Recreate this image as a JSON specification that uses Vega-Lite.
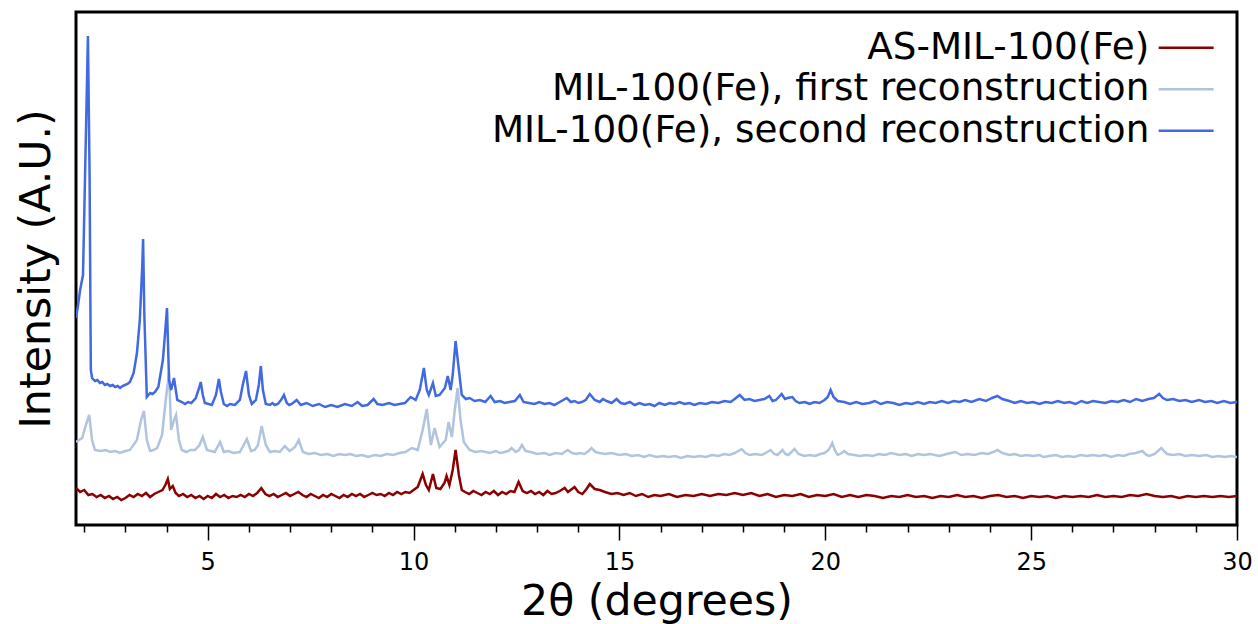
{
"$schema": "https://vega.github.io/schema/vega-lite/v6.json",
"width": 1161, "height": 513,
"autosize": {"type": "none"},
"padding": {"left": 76, "top": 12, "right": 21, "bottom": 99},
"background": "white",
"config": {"view": {"stroke": "black", "strokeWidth": 3}, "font": "DejaVu Sans"},
"data": {"values": [
{"s":"AS-MIL-100(Fe)","x":1.80,"v":37},{"s":"AS-MIL-100(Fe)","x":1.90,"v":33},{"s":"AS-MIL-100(Fe)","x":2.00,"v":35},{"s":"AS-MIL-100(Fe)","x":2.10,"v":30},{"s":"AS-MIL-100(Fe)","x":2.20,"v":31},{"s":"AS-MIL-100(Fe)","x":2.30,"v":28},{"s":"AS-MIL-100(Fe)","x":2.40,"v":30},{"s":"AS-MIL-100(Fe)","x":2.50,"v":27},{"s":"AS-MIL-100(Fe)","x":2.60,"v":29},{"s":"AS-MIL-100(Fe)","x":2.70,"v":26},{"s":"AS-MIL-100(Fe)","x":2.80,"v":28},{"s":"AS-MIL-100(Fe)","x":2.90,"v":25},{"s":"AS-MIL-100(Fe)","x":3.00,"v":27},{"s":"AS-MIL-100(Fe)","x":3.10,"v":30},{"s":"AS-MIL-100(Fe)","x":3.20,"v":28},{"s":"AS-MIL-100(Fe)","x":3.30,"v":31},{"s":"AS-MIL-100(Fe)","x":3.40,"v":29},{"s":"AS-MIL-100(Fe)","x":3.50,"v":32},{"s":"AS-MIL-100(Fe)","x":3.60,"v":28},{"s":"AS-MIL-100(Fe)","x":3.70,"v":31},{"s":"AS-MIL-100(Fe)","x":3.80,"v":33},{"s":"AS-MIL-100(Fe)","x":3.90,"v":35},{"s":"AS-MIL-100(Fe)","x":3.97,"v":40},{"s":"AS-MIL-100(Fe)","x":4.03,"v":46},{"s":"AS-MIL-100(Fe)","x":4.08,"v":36},{"s":"AS-MIL-100(Fe)","x":4.15,"v":39},{"s":"AS-MIL-100(Fe)","x":4.22,"v":32},{"s":"AS-MIL-100(Fe)","x":4.30,"v":29},{"s":"AS-MIL-100(Fe)","x":4.40,"v":31},{"s":"AS-MIL-100(Fe)","x":4.50,"v":28},{"s":"AS-MIL-100(Fe)","x":4.60,"v":30},{"s":"AS-MIL-100(Fe)","x":4.70,"v":27},{"s":"AS-MIL-100(Fe)","x":4.80,"v":29},{"s":"AS-MIL-100(Fe)","x":4.90,"v":26},{"s":"AS-MIL-100(Fe)","x":5.00,"v":29},{"s":"AS-MIL-100(Fe)","x":5.10,"v":27},{"s":"AS-MIL-100(Fe)","x":5.20,"v":31},{"s":"AS-MIL-100(Fe)","x":5.30,"v":28},{"s":"AS-MIL-100(Fe)","x":5.40,"v":30},{"s":"AS-MIL-100(Fe)","x":5.50,"v":27},{"s":"AS-MIL-100(Fe)","x":5.60,"v":29},{"s":"AS-MIL-100(Fe)","x":5.70,"v":28},{"s":"AS-MIL-100(Fe)","x":5.80,"v":30},{"s":"AS-MIL-100(Fe)","x":5.90,"v":28},{"s":"AS-MIL-100(Fe)","x":6.00,"v":31},{"s":"AS-MIL-100(Fe)","x":6.10,"v":29},{"s":"AS-MIL-100(Fe)","x":6.20,"v":32},{"s":"AS-MIL-100(Fe)","x":6.30,"v":37},{"s":"AS-MIL-100(Fe)","x":6.40,"v":31},{"s":"AS-MIL-100(Fe)","x":6.50,"v":29},{"s":"AS-MIL-100(Fe)","x":6.60,"v":31},{"s":"AS-MIL-100(Fe)","x":6.70,"v":28},{"s":"AS-MIL-100(Fe)","x":6.80,"v":30},{"s":"AS-MIL-100(Fe)","x":6.90,"v":32},{"s":"AS-MIL-100(Fe)","x":7.00,"v":29},{"s":"AS-MIL-100(Fe)","x":7.10,"v":31},{"s":"AS-MIL-100(Fe)","x":7.20,"v":33},{"s":"AS-MIL-100(Fe)","x":7.30,"v":30},{"s":"AS-MIL-100(Fe)","x":7.40,"v":28},{"s":"AS-MIL-100(Fe)","x":7.50,"v":31},{"s":"AS-MIL-100(Fe)","x":7.60,"v":29},{"s":"AS-MIL-100(Fe)","x":7.70,"v":27},{"s":"AS-MIL-100(Fe)","x":7.80,"v":30},{"s":"AS-MIL-100(Fe)","x":7.90,"v":28},{"s":"AS-MIL-100(Fe)","x":8.00,"v":31},{"s":"AS-MIL-100(Fe)","x":8.10,"v":29},{"s":"AS-MIL-100(Fe)","x":8.20,"v":27},{"s":"AS-MIL-100(Fe)","x":8.30,"v":30},{"s":"AS-MIL-100(Fe)","x":8.40,"v":28},{"s":"AS-MIL-100(Fe)","x":8.50,"v":31},{"s":"AS-MIL-100(Fe)","x":8.60,"v":29},{"s":"AS-MIL-100(Fe)","x":8.70,"v":31},{"s":"AS-MIL-100(Fe)","x":8.80,"v":28},{"s":"AS-MIL-100(Fe)","x":8.90,"v":30},{"s":"AS-MIL-100(Fe)","x":9.00,"v":32},{"s":"AS-MIL-100(Fe)","x":9.10,"v":30},{"s":"AS-MIL-100(Fe)","x":9.20,"v":31},{"s":"AS-MIL-100(Fe)","x":9.30,"v":29},{"s":"AS-MIL-100(Fe)","x":9.40,"v":32},{"s":"AS-MIL-100(Fe)","x":9.50,"v":30},{"s":"AS-MIL-100(Fe)","x":9.60,"v":33},{"s":"AS-MIL-100(Fe)","x":9.70,"v":31},{"s":"AS-MIL-100(Fe)","x":9.80,"v":33},{"s":"AS-MIL-100(Fe)","x":9.90,"v":32},{"s":"AS-MIL-100(Fe)","x":10.00,"v":35},{"s":"AS-MIL-100(Fe)","x":10.10,"v":38},{"s":"AS-MIL-100(Fe)","x":10.22,"v":51},{"s":"AS-MIL-100(Fe)","x":10.30,"v":40},{"s":"AS-MIL-100(Fe)","x":10.37,"v":35},{"s":"AS-MIL-100(Fe)","x":10.47,"v":51},{"s":"AS-MIL-100(Fe)","x":10.55,"v":37},{"s":"AS-MIL-100(Fe)","x":10.65,"v":36},{"s":"AS-MIL-100(Fe)","x":10.75,"v":42},{"s":"AS-MIL-100(Fe)","x":10.80,"v":49},{"s":"AS-MIL-100(Fe)","x":10.87,"v":40},{"s":"AS-MIL-100(Fe)","x":10.95,"v":55},{"s":"AS-MIL-100(Fe)","x":11.02,"v":75},{"s":"AS-MIL-100(Fe)","x":11.10,"v":50},{"s":"AS-MIL-100(Fe)","x":11.17,"v":35},{"s":"AS-MIL-100(Fe)","x":11.25,"v":33},{"s":"AS-MIL-100(Fe)","x":11.35,"v":31},{"s":"AS-MIL-100(Fe)","x":11.45,"v":34},{"s":"AS-MIL-100(Fe)","x":11.55,"v":32},{"s":"AS-MIL-100(Fe)","x":11.65,"v":30},{"s":"AS-MIL-100(Fe)","x":11.75,"v":33},{"s":"AS-MIL-100(Fe)","x":11.85,"v":31},{"s":"AS-MIL-100(Fe)","x":11.95,"v":34},{"s":"AS-MIL-100(Fe)","x":12.05,"v":30},{"s":"AS-MIL-100(Fe)","x":12.15,"v":33},{"s":"AS-MIL-100(Fe)","x":12.25,"v":31},{"s":"AS-MIL-100(Fe)","x":12.35,"v":34},{"s":"AS-MIL-100(Fe)","x":12.45,"v":33},{"s":"AS-MIL-100(Fe)","x":12.55,"v":43},{"s":"AS-MIL-100(Fe)","x":12.65,"v":34},{"s":"AS-MIL-100(Fe)","x":12.75,"v":32},{"s":"AS-MIL-100(Fe)","x":12.85,"v":34},{"s":"AS-MIL-100(Fe)","x":12.95,"v":31},{"s":"AS-MIL-100(Fe)","x":13.05,"v":33},{"s":"AS-MIL-100(Fe)","x":13.15,"v":30},{"s":"AS-MIL-100(Fe)","x":13.25,"v":34},{"s":"AS-MIL-100(Fe)","x":13.35,"v":31},{"s":"AS-MIL-100(Fe)","x":13.45,"v":32},{"s":"AS-MIL-100(Fe)","x":13.55,"v":34},{"s":"AS-MIL-100(Fe)","x":13.67,"v":37},{"s":"AS-MIL-100(Fe)","x":13.75,"v":33},{"s":"AS-MIL-100(Fe)","x":13.91,"v":38},{"s":"AS-MIL-100(Fe)","x":14.00,"v":33},{"s":"AS-MIL-100(Fe)","x":14.10,"v":31},{"s":"AS-MIL-100(Fe)","x":14.20,"v":36},{"s":"AS-MIL-100(Fe)","x":14.28,"v":41},{"s":"AS-MIL-100(Fe)","x":14.40,"v":36},{"s":"AS-MIL-100(Fe)","x":14.52,"v":35},{"s":"AS-MIL-100(Fe)","x":14.65,"v":33},{"s":"AS-MIL-100(Fe)","x":14.80,"v":31},{"s":"AS-MIL-100(Fe)","x":14.95,"v":32},{"s":"AS-MIL-100(Fe)","x":15.10,"v":30},{"s":"AS-MIL-100(Fe)","x":15.25,"v":32},{"s":"AS-MIL-100(Fe)","x":15.40,"v":29},{"s":"AS-MIL-100(Fe)","x":15.55,"v":31},{"s":"AS-MIL-100(Fe)","x":15.70,"v":28},{"s":"AS-MIL-100(Fe)","x":15.85,"v":30},{"s":"AS-MIL-100(Fe)","x":16.00,"v":29},{"s":"AS-MIL-100(Fe)","x":16.20,"v":31},{"s":"AS-MIL-100(Fe)","x":16.40,"v":28},{"s":"AS-MIL-100(Fe)","x":16.60,"v":30},{"s":"AS-MIL-100(Fe)","x":16.80,"v":29},{"s":"AS-MIL-100(Fe)","x":17.00,"v":31},{"s":"AS-MIL-100(Fe)","x":17.20,"v":29},{"s":"AS-MIL-100(Fe)","x":17.40,"v":31},{"s":"AS-MIL-100(Fe)","x":17.60,"v":30},{"s":"AS-MIL-100(Fe)","x":17.80,"v":32},{"s":"AS-MIL-100(Fe)","x":18.00,"v":30},{"s":"AS-MIL-100(Fe)","x":18.20,"v":32},{"s":"AS-MIL-100(Fe)","x":18.40,"v":29},{"s":"AS-MIL-100(Fe)","x":18.60,"v":31},{"s":"AS-MIL-100(Fe)","x":18.80,"v":28},{"s":"AS-MIL-100(Fe)","x":19.00,"v":30},{"s":"AS-MIL-100(Fe)","x":19.20,"v":29},{"s":"AS-MIL-100(Fe)","x":19.40,"v":31},{"s":"AS-MIL-100(Fe)","x":19.60,"v":28},{"s":"AS-MIL-100(Fe)","x":19.80,"v":30},{"s":"AS-MIL-100(Fe)","x":20.00,"v":29},{"s":"AS-MIL-100(Fe)","x":20.20,"v":31},{"s":"AS-MIL-100(Fe)","x":20.40,"v":28},{"s":"AS-MIL-100(Fe)","x":20.60,"v":30},{"s":"AS-MIL-100(Fe)","x":20.80,"v":28},{"s":"AS-MIL-100(Fe)","x":21.00,"v":30},{"s":"AS-MIL-100(Fe)","x":21.20,"v":29},{"s":"AS-MIL-100(Fe)","x":21.40,"v":27},{"s":"AS-MIL-100(Fe)","x":21.60,"v":29},{"s":"AS-MIL-100(Fe)","x":21.80,"v":28},{"s":"AS-MIL-100(Fe)","x":22.00,"v":30},{"s":"AS-MIL-100(Fe)","x":22.20,"v":28},{"s":"AS-MIL-100(Fe)","x":22.40,"v":29},{"s":"AS-MIL-100(Fe)","x":22.60,"v":27},{"s":"AS-MIL-100(Fe)","x":22.80,"v":29},{"s":"AS-MIL-100(Fe)","x":23.00,"v":28},{"s":"AS-MIL-100(Fe)","x":23.20,"v":30},{"s":"AS-MIL-100(Fe)","x":23.40,"v":28},{"s":"AS-MIL-100(Fe)","x":23.60,"v":29},{"s":"AS-MIL-100(Fe)","x":23.80,"v":27},{"s":"AS-MIL-100(Fe)","x":24.00,"v":29},{"s":"AS-MIL-100(Fe)","x":24.20,"v":30},{"s":"AS-MIL-100(Fe)","x":24.40,"v":28},{"s":"AS-MIL-100(Fe)","x":24.60,"v":29},{"s":"AS-MIL-100(Fe)","x":24.80,"v":27},{"s":"AS-MIL-100(Fe)","x":25.00,"v":29},{"s":"AS-MIL-100(Fe)","x":25.20,"v":28},{"s":"AS-MIL-100(Fe)","x":25.40,"v":29},{"s":"AS-MIL-100(Fe)","x":25.60,"v":27},{"s":"AS-MIL-100(Fe)","x":25.80,"v":29},{"s":"AS-MIL-100(Fe)","x":26.00,"v":28},{"s":"AS-MIL-100(Fe)","x":26.20,"v":29},{"s":"AS-MIL-100(Fe)","x":26.40,"v":28},{"s":"AS-MIL-100(Fe)","x":26.60,"v":30},{"s":"AS-MIL-100(Fe)","x":26.80,"v":28},{"s":"AS-MIL-100(Fe)","x":27.00,"v":29},{"s":"AS-MIL-100(Fe)","x":27.20,"v":28},{"s":"AS-MIL-100(Fe)","x":27.40,"v":30},{"s":"AS-MIL-100(Fe)","x":27.60,"v":29},{"s":"AS-MIL-100(Fe)","x":27.80,"v":31},{"s":"AS-MIL-100(Fe)","x":28.00,"v":29},{"s":"AS-MIL-100(Fe)","x":28.20,"v":28},{"s":"AS-MIL-100(Fe)","x":28.40,"v":29},{"s":"AS-MIL-100(Fe)","x":28.60,"v":27},{"s":"AS-MIL-100(Fe)","x":28.80,"v":29},{"s":"AS-MIL-100(Fe)","x":29.00,"v":28},{"s":"AS-MIL-100(Fe)","x":29.20,"v":29},{"s":"AS-MIL-100(Fe)","x":29.40,"v":28},{"s":"AS-MIL-100(Fe)","x":29.60,"v":29},{"s":"AS-MIL-100(Fe)","x":29.80,"v":28},{"s":"AS-MIL-100(Fe)","x":30.00,"v":29},
{"s":"MIL-100(Fe), first reconstruction","x":1.80,"v":83},{"s":"MIL-100(Fe), first reconstruction","x":1.95,"v":87},{"s":"MIL-100(Fe), first reconstruction","x":2.04,"v":100},{"s":"MIL-100(Fe), first reconstruction","x":2.12,"v":110},{"s":"MIL-100(Fe), first reconstruction","x":2.19,"v":85},{"s":"MIL-100(Fe), first reconstruction","x":2.26,"v":75},{"s":"MIL-100(Fe), first reconstruction","x":2.40,"v":74},{"s":"MIL-100(Fe), first reconstruction","x":2.52,"v":75},{"s":"MIL-100(Fe), first reconstruction","x":2.63,"v":73},{"s":"MIL-100(Fe), first reconstruction","x":2.75,"v":74},{"s":"MIL-100(Fe), first reconstruction","x":2.87,"v":72},{"s":"MIL-100(Fe), first reconstruction","x":3.00,"v":74},{"s":"MIL-100(Fe), first reconstruction","x":3.11,"v":75},{"s":"MIL-100(Fe), first reconstruction","x":3.28,"v":85},{"s":"MIL-100(Fe), first reconstruction","x":3.38,"v":105},{"s":"MIL-100(Fe), first reconstruction","x":3.45,"v":114},{"s":"MIL-100(Fe), first reconstruction","x":3.52,"v":85},{"s":"MIL-100(Fe), first reconstruction","x":3.60,"v":74},{"s":"MIL-100(Fe), first reconstruction","x":3.68,"v":75},{"s":"MIL-100(Fe), first reconstruction","x":3.77,"v":77},{"s":"MIL-100(Fe), first reconstruction","x":3.89,"v":90},{"s":"MIL-100(Fe), first reconstruction","x":3.98,"v":125},{"s":"MIL-100(Fe), first reconstruction","x":4.06,"v":153},{"s":"MIL-100(Fe), first reconstruction","x":4.11,"v":95},{"s":"MIL-100(Fe), first reconstruction","x":4.18,"v":105},{"s":"MIL-100(Fe), first reconstruction","x":4.23,"v":110},{"s":"MIL-100(Fe), first reconstruction","x":4.30,"v":85},{"s":"MIL-100(Fe), first reconstruction","x":4.37,"v":75},{"s":"MIL-100(Fe), first reconstruction","x":4.48,"v":73},{"s":"MIL-100(Fe), first reconstruction","x":4.58,"v":75},{"s":"MIL-100(Fe), first reconstruction","x":4.69,"v":75},{"s":"MIL-100(Fe), first reconstruction","x":4.80,"v":80},{"s":"MIL-100(Fe), first reconstruction","x":4.88,"v":88},{"s":"MIL-100(Fe), first reconstruction","x":4.98,"v":75},{"s":"MIL-100(Fe), first reconstruction","x":5.08,"v":74},{"s":"MIL-100(Fe), first reconstruction","x":5.17,"v":73},{"s":"MIL-100(Fe), first reconstruction","x":5.30,"v":83},{"s":"MIL-100(Fe), first reconstruction","x":5.39,"v":73},{"s":"MIL-100(Fe), first reconstruction","x":5.50,"v":74},{"s":"MIL-100(Fe), first reconstruction","x":5.62,"v":72},{"s":"MIL-100(Fe), first reconstruction","x":5.78,"v":73},{"s":"MIL-100(Fe), first reconstruction","x":5.95,"v":86},{"s":"MIL-100(Fe), first reconstruction","x":6.05,"v":74},{"s":"MIL-100(Fe), first reconstruction","x":6.14,"v":75},{"s":"MIL-100(Fe), first reconstruction","x":6.22,"v":80},{"s":"MIL-100(Fe), first reconstruction","x":6.31,"v":99},{"s":"MIL-100(Fe), first reconstruction","x":6.41,"v":80},{"s":"MIL-100(Fe), first reconstruction","x":6.51,"v":73},{"s":"MIL-100(Fe), first reconstruction","x":6.63,"v":74},{"s":"MIL-100(Fe), first reconstruction","x":6.75,"v":73},{"s":"MIL-100(Fe), first reconstruction","x":6.87,"v":79},{"s":"MIL-100(Fe), first reconstruction","x":6.99,"v":74},{"s":"MIL-100(Fe), first reconstruction","x":7.12,"v":78},{"s":"MIL-100(Fe), first reconstruction","x":7.21,"v":85},{"s":"MIL-100(Fe), first reconstruction","x":7.31,"v":73},{"s":"MIL-100(Fe), first reconstruction","x":7.45,"v":71},{"s":"MIL-100(Fe), first reconstruction","x":7.60,"v":72},{"s":"MIL-100(Fe), first reconstruction","x":7.75,"v":70},{"s":"MIL-100(Fe), first reconstruction","x":7.90,"v":71},{"s":"MIL-100(Fe), first reconstruction","x":8.05,"v":69},{"s":"MIL-100(Fe), first reconstruction","x":8.20,"v":71},{"s":"MIL-100(Fe), first reconstruction","x":8.33,"v":70},{"s":"MIL-100(Fe), first reconstruction","x":8.47,"v":71},{"s":"MIL-100(Fe), first reconstruction","x":8.60,"v":69},{"s":"MIL-100(Fe), first reconstruction","x":8.75,"v":70},{"s":"MIL-100(Fe), first reconstruction","x":8.90,"v":68},{"s":"MIL-100(Fe), first reconstruction","x":9.05,"v":70},{"s":"MIL-100(Fe), first reconstruction","x":9.20,"v":69},{"s":"MIL-100(Fe), first reconstruction","x":9.35,"v":71},{"s":"MIL-100(Fe), first reconstruction","x":9.50,"v":70},{"s":"MIL-100(Fe), first reconstruction","x":9.66,"v":72},{"s":"MIL-100(Fe), first reconstruction","x":9.80,"v":73},{"s":"MIL-100(Fe), first reconstruction","x":9.96,"v":77},{"s":"MIL-100(Fe), first reconstruction","x":10.10,"v":75},{"s":"MIL-100(Fe), first reconstruction","x":10.22,"v":95},{"s":"MIL-100(Fe), first reconstruction","x":10.32,"v":116},{"s":"MIL-100(Fe), first reconstruction","x":10.42,"v":80},{"s":"MIL-100(Fe), first reconstruction","x":10.51,"v":97},{"s":"MIL-100(Fe), first reconstruction","x":10.63,"v":78},{"s":"MIL-100(Fe), first reconstruction","x":10.78,"v":85},{"s":"MIL-100(Fe), first reconstruction","x":10.85,"v":103},{"s":"MIL-100(Fe), first reconstruction","x":10.93,"v":88},{"s":"MIL-100(Fe), first reconstruction","x":11.00,"v":115},{"s":"MIL-100(Fe), first reconstruction","x":11.07,"v":137},{"s":"MIL-100(Fe), first reconstruction","x":11.14,"v":105},{"s":"MIL-100(Fe), first reconstruction","x":11.22,"v":83},{"s":"MIL-100(Fe), first reconstruction","x":11.36,"v":75},{"s":"MIL-100(Fe), first reconstruction","x":11.50,"v":73},{"s":"MIL-100(Fe), first reconstruction","x":11.65,"v":74},{"s":"MIL-100(Fe), first reconstruction","x":11.85,"v":72},{"s":"MIL-100(Fe), first reconstruction","x":12.00,"v":74},{"s":"MIL-100(Fe), first reconstruction","x":12.10,"v":72},{"s":"MIL-100(Fe), first reconstruction","x":12.21,"v":73},{"s":"MIL-100(Fe), first reconstruction","x":12.30,"v":74},{"s":"MIL-100(Fe), first reconstruction","x":12.38,"v":77},{"s":"MIL-100(Fe), first reconstruction","x":12.48,"v":73},{"s":"MIL-100(Fe), first reconstruction","x":12.56,"v":75},{"s":"MIL-100(Fe), first reconstruction","x":12.63,"v":80},{"s":"MIL-100(Fe), first reconstruction","x":12.72,"v":74},{"s":"MIL-100(Fe), first reconstruction","x":12.85,"v":73},{"s":"MIL-100(Fe), first reconstruction","x":13.00,"v":71},{"s":"MIL-100(Fe), first reconstruction","x":13.18,"v":72},{"s":"MIL-100(Fe), first reconstruction","x":13.30,"v":70},{"s":"MIL-100(Fe), first reconstruction","x":13.45,"v":72},{"s":"MIL-100(Fe), first reconstruction","x":13.60,"v":71},{"s":"MIL-100(Fe), first reconstruction","x":13.74,"v":75},{"s":"MIL-100(Fe), first reconstruction","x":13.85,"v":72},{"s":"MIL-100(Fe), first reconstruction","x":13.95,"v":71},{"s":"MIL-100(Fe), first reconstruction","x":14.03,"v":72},{"s":"MIL-100(Fe), first reconstruction","x":14.15,"v":71},{"s":"MIL-100(Fe), first reconstruction","x":14.25,"v":74},{"s":"MIL-100(Fe), first reconstruction","x":14.32,"v":77},{"s":"MIL-100(Fe), first reconstruction","x":14.42,"v":73},{"s":"MIL-100(Fe), first reconstruction","x":14.52,"v":72},{"s":"MIL-100(Fe), first reconstruction","x":14.65,"v":71},{"s":"MIL-100(Fe), first reconstruction","x":14.80,"v":72},{"s":"MIL-100(Fe), first reconstruction","x":15.00,"v":70},{"s":"MIL-100(Fe), first reconstruction","x":15.15,"v":71},{"s":"MIL-100(Fe), first reconstruction","x":15.30,"v":69},{"s":"MIL-100(Fe), first reconstruction","x":15.45,"v":70},{"s":"MIL-100(Fe), first reconstruction","x":15.60,"v":68},{"s":"MIL-100(Fe), first reconstruction","x":15.73,"v":70},{"s":"MIL-100(Fe), first reconstruction","x":15.90,"v":68},{"s":"MIL-100(Fe), first reconstruction","x":16.05,"v":69},{"s":"MIL-100(Fe), first reconstruction","x":16.20,"v":68},{"s":"MIL-100(Fe), first reconstruction","x":16.35,"v":69},{"s":"MIL-100(Fe), first reconstruction","x":16.50,"v":67},{"s":"MIL-100(Fe), first reconstruction","x":16.65,"v":69},{"s":"MIL-100(Fe), first reconstruction","x":16.80,"v":68},{"s":"MIL-100(Fe), first reconstruction","x":16.95,"v":69},{"s":"MIL-100(Fe), first reconstruction","x":17.10,"v":68},{"s":"MIL-100(Fe), first reconstruction","x":17.25,"v":70},{"s":"MIL-100(Fe), first reconstruction","x":17.40,"v":69},{"s":"MIL-100(Fe), first reconstruction","x":17.55,"v":71},{"s":"MIL-100(Fe), first reconstruction","x":17.67,"v":70},{"s":"MIL-100(Fe), first reconstruction","x":17.80,"v":72},{"s":"MIL-100(Fe), first reconstruction","x":17.97,"v":76},{"s":"MIL-100(Fe), first reconstruction","x":18.06,"v":72},{"s":"MIL-100(Fe), first reconstruction","x":18.16,"v":70},{"s":"MIL-100(Fe), first reconstruction","x":18.30,"v":71},{"s":"MIL-100(Fe), first reconstruction","x":18.45,"v":70},{"s":"MIL-100(Fe), first reconstruction","x":18.55,"v":72},{"s":"MIL-100(Fe), first reconstruction","x":18.67,"v":75},{"s":"MIL-100(Fe), first reconstruction","x":18.76,"v":71},{"s":"MIL-100(Fe), first reconstruction","x":18.84,"v":70},{"s":"MIL-100(Fe), first reconstruction","x":18.96,"v":75},{"s":"MIL-100(Fe), first reconstruction","x":19.03,"v":71},{"s":"MIL-100(Fe), first reconstruction","x":19.10,"v":70},{"s":"MIL-100(Fe), first reconstruction","x":19.18,"v":73},{"s":"MIL-100(Fe), first reconstruction","x":19.25,"v":76},{"s":"MIL-100(Fe), first reconstruction","x":19.35,"v":71},{"s":"MIL-100(Fe), first reconstruction","x":19.49,"v":69},{"s":"MIL-100(Fe), first reconstruction","x":19.62,"v":70},{"s":"MIL-100(Fe), first reconstruction","x":19.75,"v":69},{"s":"MIL-100(Fe), first reconstruction","x":19.88,"v":71},{"s":"MIL-100(Fe), first reconstruction","x":19.98,"v":72},{"s":"MIL-100(Fe), first reconstruction","x":20.08,"v":75},{"s":"MIL-100(Fe), first reconstruction","x":20.17,"v":82},{"s":"MIL-100(Fe), first reconstruction","x":20.24,"v":74},{"s":"MIL-100(Fe), first reconstruction","x":20.30,"v":70},{"s":"MIL-100(Fe), first reconstruction","x":20.40,"v":72},{"s":"MIL-100(Fe), first reconstruction","x":20.46,"v":74},{"s":"MIL-100(Fe), first reconstruction","x":20.55,"v":71},{"s":"MIL-100(Fe), first reconstruction","x":20.70,"v":70},{"s":"MIL-100(Fe), first reconstruction","x":20.83,"v":69},{"s":"MIL-100(Fe), first reconstruction","x":21.00,"v":70},{"s":"MIL-100(Fe), first reconstruction","x":21.15,"v":69},{"s":"MIL-100(Fe), first reconstruction","x":21.30,"v":71},{"s":"MIL-100(Fe), first reconstruction","x":21.45,"v":70},{"s":"MIL-100(Fe), first reconstruction","x":21.60,"v":72},{"s":"MIL-100(Fe), first reconstruction","x":21.80,"v":70},{"s":"MIL-100(Fe), first reconstruction","x":21.95,"v":71},{"s":"MIL-100(Fe), first reconstruction","x":22.10,"v":69},{"s":"MIL-100(Fe), first reconstruction","x":22.25,"v":71},{"s":"MIL-100(Fe), first reconstruction","x":22.40,"v":70},{"s":"MIL-100(Fe), first reconstruction","x":22.55,"v":71},{"s":"MIL-100(Fe), first reconstruction","x":22.77,"v":69},{"s":"MIL-100(Fe), first reconstruction","x":22.95,"v":71},{"s":"MIL-100(Fe), first reconstruction","x":23.05,"v":72},{"s":"MIL-100(Fe), first reconstruction","x":23.16,"v":73},{"s":"MIL-100(Fe), first reconstruction","x":23.30,"v":70},{"s":"MIL-100(Fe), first reconstruction","x":23.45,"v":71},{"s":"MIL-100(Fe), first reconstruction","x":23.62,"v":70},{"s":"MIL-100(Fe), first reconstruction","x":23.80,"v":72},{"s":"MIL-100(Fe), first reconstruction","x":23.95,"v":71},{"s":"MIL-100(Fe), first reconstruction","x":24.08,"v":73},{"s":"MIL-100(Fe), first reconstruction","x":24.18,"v":75},{"s":"MIL-100(Fe), first reconstruction","x":24.30,"v":72},{"s":"MIL-100(Fe), first reconstruction","x":24.47,"v":70},{"s":"MIL-100(Fe), first reconstruction","x":24.60,"v":71},{"s":"MIL-100(Fe), first reconstruction","x":24.75,"v":69},{"s":"MIL-100(Fe), first reconstruction","x":24.90,"v":70},{"s":"MIL-100(Fe), first reconstruction","x":25.05,"v":69},{"s":"MIL-100(Fe), first reconstruction","x":25.20,"v":70},{"s":"MIL-100(Fe), first reconstruction","x":25.30,"v":68},{"s":"MIL-100(Fe), first reconstruction","x":25.44,"v":69},{"s":"MIL-100(Fe), first reconstruction","x":25.60,"v":70},{"s":"MIL-100(Fe), first reconstruction","x":25.75,"v":68},{"s":"MIL-100(Fe), first reconstruction","x":25.90,"v":69},{"s":"MIL-100(Fe), first reconstruction","x":26.05,"v":68},{"s":"MIL-100(Fe), first reconstruction","x":26.20,"v":70},{"s":"MIL-100(Fe), first reconstruction","x":26.35,"v":69},{"s":"MIL-100(Fe), first reconstruction","x":26.50,"v":70},{"s":"MIL-100(Fe), first reconstruction","x":26.65,"v":69},{"s":"MIL-100(Fe), first reconstruction","x":26.80,"v":70},{"s":"MIL-100(Fe), first reconstruction","x":26.95,"v":68},{"s":"MIL-100(Fe), first reconstruction","x":27.10,"v":70},{"s":"MIL-100(Fe), first reconstruction","x":27.25,"v":69},{"s":"MIL-100(Fe), first reconstruction","x":27.38,"v":71},{"s":"MIL-100(Fe), first reconstruction","x":27.55,"v":72},{"s":"MIL-100(Fe), first reconstruction","x":27.70,"v":74},{"s":"MIL-100(Fe), first reconstruction","x":27.80,"v":70},{"s":"MIL-100(Fe), first reconstruction","x":27.87,"v":69},{"s":"MIL-100(Fe), first reconstruction","x":28.00,"v":71},{"s":"MIL-100(Fe), first reconstruction","x":28.16,"v":77},{"s":"MIL-100(Fe), first reconstruction","x":28.25,"v":73},{"s":"MIL-100(Fe), first reconstruction","x":28.30,"v":71},{"s":"MIL-100(Fe), first reconstruction","x":28.45,"v":70},{"s":"MIL-100(Fe), first reconstruction","x":28.60,"v":71},{"s":"MIL-100(Fe), first reconstruction","x":28.75,"v":69},{"s":"MIL-100(Fe), first reconstruction","x":28.90,"v":70},{"s":"MIL-100(Fe), first reconstruction","x":29.08,"v":69},{"s":"MIL-100(Fe), first reconstruction","x":29.25,"v":70},{"s":"MIL-100(Fe), first reconstruction","x":29.40,"v":68},{"s":"MIL-100(Fe), first reconstruction","x":29.55,"v":69},{"s":"MIL-100(Fe), first reconstruction","x":29.70,"v":68},{"s":"MIL-100(Fe), first reconstruction","x":29.85,"v":69},{"s":"MIL-100(Fe), first reconstruction","x":30.00,"v":68},
{"s":"MIL-100(Fe), second reconstruction","x":1.80,"v":207},{"s":"MIL-100(Fe), second reconstruction","x":1.85,"v":220},{"s":"MIL-100(Fe), second reconstruction","x":1.90,"v":235},{"s":"MIL-100(Fe), second reconstruction","x":1.97,"v":250},{"s":"MIL-100(Fe), second reconstruction","x":2.02,"v":350},{"s":"MIL-100(Fe), second reconstruction","x":2.09,"v":489},{"s":"MIL-100(Fe), second reconstruction","x":2.13,"v":350},{"s":"MIL-100(Fe), second reconstruction","x":2.16,"v":155},{"s":"MIL-100(Fe), second reconstruction","x":2.19,"v":147},{"s":"MIL-100(Fe), second reconstruction","x":2.26,"v":144},{"s":"MIL-100(Fe), second reconstruction","x":2.32,"v":145},{"s":"MIL-100(Fe), second reconstruction","x":2.38,"v":142},{"s":"MIL-100(Fe), second reconstruction","x":2.44,"v":143},{"s":"MIL-100(Fe), second reconstruction","x":2.50,"v":140},{"s":"MIL-100(Fe), second reconstruction","x":2.56,"v":141},{"s":"MIL-100(Fe), second reconstruction","x":2.63,"v":139},{"s":"MIL-100(Fe), second reconstruction","x":2.69,"v":140},{"s":"MIL-100(Fe), second reconstruction","x":2.75,"v":138},{"s":"MIL-100(Fe), second reconstruction","x":2.81,"v":139},{"s":"MIL-100(Fe), second reconstruction","x":2.87,"v":137},{"s":"MIL-100(Fe), second reconstruction","x":2.93,"v":139},{"s":"MIL-100(Fe), second reconstruction","x":2.99,"v":140},{"s":"MIL-100(Fe), second reconstruction","x":3.05,"v":141},{"s":"MIL-100(Fe), second reconstruction","x":3.11,"v":143},{"s":"MIL-100(Fe), second reconstruction","x":3.20,"v":152},{"s":"MIL-100(Fe), second reconstruction","x":3.28,"v":172},{"s":"MIL-100(Fe), second reconstruction","x":3.35,"v":205},{"s":"MIL-100(Fe), second reconstruction","x":3.41,"v":260},{"s":"MIL-100(Fe), second reconstruction","x":3.43,"v":286},{"s":"MIL-100(Fe), second reconstruction","x":3.46,"v":210},{"s":"MIL-100(Fe), second reconstruction","x":3.52,"v":128},{"s":"MIL-100(Fe), second reconstruction","x":3.60,"v":132},{"s":"MIL-100(Fe), second reconstruction","x":3.66,"v":131},{"s":"MIL-100(Fe), second reconstruction","x":3.72,"v":133},{"s":"MIL-100(Fe), second reconstruction","x":3.80,"v":138},{"s":"MIL-100(Fe), second reconstruction","x":3.91,"v":165},{"s":"MIL-100(Fe), second reconstruction","x":3.96,"v":190},{"s":"MIL-100(Fe), second reconstruction","x":4.01,"v":217},{"s":"MIL-100(Fe), second reconstruction","x":4.06,"v":145},{"s":"MIL-100(Fe), second reconstruction","x":4.11,"v":135},{"s":"MIL-100(Fe), second reconstruction","x":4.18,"v":147},{"s":"MIL-100(Fe), second reconstruction","x":4.26,"v":125},{"s":"MIL-100(Fe), second reconstruction","x":4.37,"v":123},{"s":"MIL-100(Fe), second reconstruction","x":4.45,"v":121},{"s":"MIL-100(Fe), second reconstruction","x":4.52,"v":123},{"s":"MIL-100(Fe), second reconstruction","x":4.60,"v":122},{"s":"MIL-100(Fe), second reconstruction","x":4.71,"v":127},{"s":"MIL-100(Fe), second reconstruction","x":4.79,"v":137},{"s":"MIL-100(Fe), second reconstruction","x":4.83,"v":143},{"s":"MIL-100(Fe), second reconstruction","x":4.88,"v":130},{"s":"MIL-100(Fe), second reconstruction","x":4.93,"v":122},{"s":"MIL-100(Fe), second reconstruction","x":5.02,"v":121},{"s":"MIL-100(Fe), second reconstruction","x":5.10,"v":120},{"s":"MIL-100(Fe), second reconstruction","x":5.20,"v":130},{"s":"MIL-100(Fe), second reconstruction","x":5.27,"v":146},{"s":"MIL-100(Fe), second reconstruction","x":5.32,"v":133},{"s":"MIL-100(Fe), second reconstruction","x":5.39,"v":121},{"s":"MIL-100(Fe), second reconstruction","x":5.47,"v":119},{"s":"MIL-100(Fe), second reconstruction","x":5.54,"v":121},{"s":"MIL-100(Fe), second reconstruction","x":5.66,"v":120},{"s":"MIL-100(Fe), second reconstruction","x":5.78,"v":125},{"s":"MIL-100(Fe), second reconstruction","x":5.85,"v":140},{"s":"MIL-100(Fe), second reconstruction","x":5.93,"v":154},{"s":"MIL-100(Fe), second reconstruction","x":6.00,"v":130},{"s":"MIL-100(Fe), second reconstruction","x":6.07,"v":121},{"s":"MIL-100(Fe), second reconstruction","x":6.17,"v":125},{"s":"MIL-100(Fe), second reconstruction","x":6.24,"v":140},{"s":"MIL-100(Fe), second reconstruction","x":6.29,"v":159},{"s":"MIL-100(Fe), second reconstruction","x":6.34,"v":135},{"s":"MIL-100(Fe), second reconstruction","x":6.41,"v":121},{"s":"MIL-100(Fe), second reconstruction","x":6.51,"v":120},{"s":"MIL-100(Fe), second reconstruction","x":6.57,"v":122},{"s":"MIL-100(Fe), second reconstruction","x":6.63,"v":120},{"s":"MIL-100(Fe), second reconstruction","x":6.70,"v":121},{"s":"MIL-100(Fe), second reconstruction","x":6.78,"v":125},{"s":"MIL-100(Fe), second reconstruction","x":6.85,"v":130},{"s":"MIL-100(Fe), second reconstruction","x":6.92,"v":122},{"s":"MIL-100(Fe), second reconstruction","x":6.98,"v":120},{"s":"MIL-100(Fe), second reconstruction","x":7.04,"v":121},{"s":"MIL-100(Fe), second reconstruction","x":7.16,"v":125},{"s":"MIL-100(Fe), second reconstruction","x":7.26,"v":120},{"s":"MIL-100(Fe), second reconstruction","x":7.40,"v":122},{"s":"MIL-100(Fe), second reconstruction","x":7.55,"v":119},{"s":"MIL-100(Fe), second reconstruction","x":7.70,"v":121},{"s":"MIL-100(Fe), second reconstruction","x":7.85,"v":118},{"s":"MIL-100(Fe), second reconstruction","x":8.00,"v":120},{"s":"MIL-100(Fe), second reconstruction","x":8.15,"v":118},{"s":"MIL-100(Fe), second reconstruction","x":8.33,"v":121},{"s":"MIL-100(Fe), second reconstruction","x":8.50,"v":119},{"s":"MIL-100(Fe), second reconstruction","x":8.64,"v":123},{"s":"MIL-100(Fe), second reconstruction","x":8.75,"v":119},{"s":"MIL-100(Fe), second reconstruction","x":8.88,"v":120},{"s":"MIL-100(Fe), second reconstruction","x":9.03,"v":126},{"s":"MIL-100(Fe), second reconstruction","x":9.12,"v":121},{"s":"MIL-100(Fe), second reconstruction","x":9.25,"v":120},{"s":"MIL-100(Fe), second reconstruction","x":9.40,"v":122},{"s":"MIL-100(Fe), second reconstruction","x":9.54,"v":120},{"s":"MIL-100(Fe), second reconstruction","x":9.66,"v":121},{"s":"MIL-100(Fe), second reconstruction","x":9.79,"v":122},{"s":"MIL-100(Fe), second reconstruction","x":9.93,"v":128},{"s":"MIL-100(Fe), second reconstruction","x":10.05,"v":125},{"s":"MIL-100(Fe), second reconstruction","x":10.15,"v":135},{"s":"MIL-100(Fe), second reconstruction","x":10.25,"v":157},{"s":"MIL-100(Fe), second reconstruction","x":10.32,"v":135},{"s":"MIL-100(Fe), second reconstruction","x":10.37,"v":130},{"s":"MIL-100(Fe), second reconstruction","x":10.47,"v":142},{"s":"MIL-100(Fe), second reconstruction","x":10.54,"v":129},{"s":"MIL-100(Fe), second reconstruction","x":10.63,"v":130},{"s":"MIL-100(Fe), second reconstruction","x":10.76,"v":137},{"s":"MIL-100(Fe), second reconstruction","x":10.83,"v":149},{"s":"MIL-100(Fe), second reconstruction","x":10.90,"v":135},{"s":"MIL-100(Fe), second reconstruction","x":10.95,"v":150},{"s":"MIL-100(Fe), second reconstruction","x":11.02,"v":184},{"s":"MIL-100(Fe), second reconstruction","x":11.10,"v":155},{"s":"MIL-100(Fe), second reconstruction","x":11.17,"v":130},{"s":"MIL-100(Fe), second reconstruction","x":11.27,"v":126},{"s":"MIL-100(Fe), second reconstruction","x":11.36,"v":127},{"s":"MIL-100(Fe), second reconstruction","x":11.48,"v":124},{"s":"MIL-100(Fe), second reconstruction","x":11.61,"v":125},{"s":"MIL-100(Fe), second reconstruction","x":11.74,"v":123},{"s":"MIL-100(Fe), second reconstruction","x":11.87,"v":129},{"s":"MIL-100(Fe), second reconstruction","x":11.97,"v":123},{"s":"MIL-100(Fe), second reconstruction","x":12.10,"v":124},{"s":"MIL-100(Fe), second reconstruction","x":12.21,"v":122},{"s":"MIL-100(Fe), second reconstruction","x":12.33,"v":123},{"s":"MIL-100(Fe), second reconstruction","x":12.46,"v":124},{"s":"MIL-100(Fe), second reconstruction","x":12.58,"v":130},{"s":"MIL-100(Fe), second reconstruction","x":12.67,"v":123},{"s":"MIL-100(Fe), second reconstruction","x":12.80,"v":122},{"s":"MIL-100(Fe), second reconstruction","x":12.94,"v":121},{"s":"MIL-100(Fe), second reconstruction","x":13.05,"v":123},{"s":"MIL-100(Fe), second reconstruction","x":13.18,"v":121},{"s":"MIL-100(Fe), second reconstruction","x":13.30,"v":122},{"s":"MIL-100(Fe), second reconstruction","x":13.42,"v":120},{"s":"MIL-100(Fe), second reconstruction","x":13.55,"v":123},{"s":"MIL-100(Fe), second reconstruction","x":13.72,"v":127},{"s":"MIL-100(Fe), second reconstruction","x":13.82,"v":123},{"s":"MIL-100(Fe), second reconstruction","x":13.91,"v":124},{"s":"MIL-100(Fe), second reconstruction","x":14.00,"v":122},{"s":"MIL-100(Fe), second reconstruction","x":14.08,"v":123},{"s":"MIL-100(Fe), second reconstruction","x":14.18,"v":125},{"s":"MIL-100(Fe), second reconstruction","x":14.28,"v":131},{"s":"MIL-100(Fe), second reconstruction","x":14.40,"v":125},{"s":"MIL-100(Fe), second reconstruction","x":14.52,"v":123},{"s":"MIL-100(Fe), second reconstruction","x":14.60,"v":126},{"s":"MIL-100(Fe), second reconstruction","x":14.69,"v":124},{"s":"MIL-100(Fe), second reconstruction","x":14.81,"v":122},{"s":"MIL-100(Fe), second reconstruction","x":14.93,"v":126},{"s":"MIL-100(Fe), second reconstruction","x":15.03,"v":122},{"s":"MIL-100(Fe), second reconstruction","x":15.13,"v":121},{"s":"MIL-100(Fe), second reconstruction","x":15.25,"v":123},{"s":"MIL-100(Fe), second reconstruction","x":15.37,"v":120},{"s":"MIL-100(Fe), second reconstruction","x":15.49,"v":122},{"s":"MIL-100(Fe), second reconstruction","x":15.61,"v":120},{"s":"MIL-100(Fe), second reconstruction","x":15.73,"v":121},{"s":"MIL-100(Fe), second reconstruction","x":15.85,"v":119},{"s":"MIL-100(Fe), second reconstruction","x":15.97,"v":122},{"s":"MIL-100(Fe), second reconstruction","x":16.10,"v":120},{"s":"MIL-100(Fe), second reconstruction","x":16.22,"v":122},{"s":"MIL-100(Fe), second reconstruction","x":16.34,"v":121},{"s":"MIL-100(Fe), second reconstruction","x":16.46,"v":123},{"s":"MIL-100(Fe), second reconstruction","x":16.58,"v":121},{"s":"MIL-100(Fe), second reconstruction","x":16.70,"v":122},{"s":"MIL-100(Fe), second reconstruction","x":16.82,"v":120},{"s":"MIL-100(Fe), second reconstruction","x":16.95,"v":122},{"s":"MIL-100(Fe), second reconstruction","x":17.10,"v":121},{"s":"MIL-100(Fe), second reconstruction","x":17.25,"v":123},{"s":"MIL-100(Fe), second reconstruction","x":17.40,"v":122},{"s":"MIL-100(Fe), second reconstruction","x":17.55,"v":124},{"s":"MIL-100(Fe), second reconstruction","x":17.70,"v":123},{"s":"MIL-100(Fe), second reconstruction","x":17.80,"v":126},{"s":"MIL-100(Fe), second reconstruction","x":17.92,"v":130},{"s":"MIL-100(Fe), second reconstruction","x":18.04,"v":125},{"s":"MIL-100(Fe), second reconstruction","x":18.16,"v":126},{"s":"MIL-100(Fe), second reconstruction","x":18.28,"v":124},{"s":"MIL-100(Fe), second reconstruction","x":18.40,"v":125},{"s":"MIL-100(Fe), second reconstruction","x":18.52,"v":126},{"s":"MIL-100(Fe), second reconstruction","x":18.64,"v":129},{"s":"MIL-100(Fe), second reconstruction","x":18.72,"v":124},{"s":"MIL-100(Fe), second reconstruction","x":18.80,"v":125},{"s":"MIL-100(Fe), second reconstruction","x":18.94,"v":131},{"s":"MIL-100(Fe), second reconstruction","x":19.02,"v":126},{"s":"MIL-100(Fe), second reconstruction","x":19.08,"v":127},{"s":"MIL-100(Fe), second reconstruction","x":19.20,"v":128},{"s":"MIL-100(Fe), second reconstruction","x":19.28,"v":124},{"s":"MIL-100(Fe), second reconstruction","x":19.37,"v":122},{"s":"MIL-100(Fe), second reconstruction","x":19.50,"v":123},{"s":"MIL-100(Fe), second reconstruction","x":19.62,"v":121},{"s":"MIL-100(Fe), second reconstruction","x":19.74,"v":123},{"s":"MIL-100(Fe), second reconstruction","x":19.86,"v":122},{"s":"MIL-100(Fe), second reconstruction","x":19.98,"v":125},{"s":"MIL-100(Fe), second reconstruction","x":20.06,"v":128},{"s":"MIL-100(Fe), second reconstruction","x":20.13,"v":135},{"s":"MIL-100(Fe), second reconstruction","x":20.20,"v":128},{"s":"MIL-100(Fe), second reconstruction","x":20.30,"v":124},{"s":"MIL-100(Fe), second reconstruction","x":20.46,"v":123},{"s":"MIL-100(Fe), second reconstruction","x":20.60,"v":121},{"s":"MIL-100(Fe), second reconstruction","x":20.75,"v":123},{"s":"MIL-100(Fe), second reconstruction","x":20.90,"v":121},{"s":"MIL-100(Fe), second reconstruction","x":21.07,"v":122},{"s":"MIL-100(Fe), second reconstruction","x":21.20,"v":124},{"s":"MIL-100(Fe), second reconstruction","x":21.35,"v":121},{"s":"MIL-100(Fe), second reconstruction","x":21.50,"v":123},{"s":"MIL-100(Fe), second reconstruction","x":21.65,"v":122},{"s":"MIL-100(Fe), second reconstruction","x":21.80,"v":120},{"s":"MIL-100(Fe), second reconstruction","x":21.95,"v":122},{"s":"MIL-100(Fe), second reconstruction","x":22.10,"v":121},{"s":"MIL-100(Fe), second reconstruction","x":22.25,"v":123},{"s":"MIL-100(Fe), second reconstruction","x":22.40,"v":121},{"s":"MIL-100(Fe), second reconstruction","x":22.53,"v":123},{"s":"MIL-100(Fe), second reconstruction","x":22.68,"v":122},{"s":"MIL-100(Fe), second reconstruction","x":22.83,"v":124},{"s":"MIL-100(Fe), second reconstruction","x":22.98,"v":122},{"s":"MIL-100(Fe), second reconstruction","x":23.12,"v":124},{"s":"MIL-100(Fe), second reconstruction","x":23.26,"v":123},{"s":"MIL-100(Fe), second reconstruction","x":23.40,"v":125},{"s":"MIL-100(Fe), second reconstruction","x":23.55,"v":123},{"s":"MIL-100(Fe), second reconstruction","x":23.74,"v":126},{"s":"MIL-100(Fe), second reconstruction","x":23.90,"v":124},{"s":"MIL-100(Fe), second reconstruction","x":24.05,"v":127},{"s":"MIL-100(Fe), second reconstruction","x":24.18,"v":129},{"s":"MIL-100(Fe), second reconstruction","x":24.30,"v":126},{"s":"MIL-100(Fe), second reconstruction","x":24.47,"v":124},{"s":"MIL-100(Fe), second reconstruction","x":24.60,"v":122},{"s":"MIL-100(Fe), second reconstruction","x":24.75,"v":124},{"s":"MIL-100(Fe), second reconstruction","x":24.90,"v":122},{"s":"MIL-100(Fe), second reconstruction","x":25.05,"v":123},{"s":"MIL-100(Fe), second reconstruction","x":25.20,"v":121},{"s":"MIL-100(Fe), second reconstruction","x":25.35,"v":123},{"s":"MIL-100(Fe), second reconstruction","x":25.50,"v":122},{"s":"MIL-100(Fe), second reconstruction","x":25.65,"v":124},{"s":"MIL-100(Fe), second reconstruction","x":25.80,"v":122},{"s":"MIL-100(Fe), second reconstruction","x":25.93,"v":123},{"s":"MIL-100(Fe), second reconstruction","x":26.08,"v":121},{"s":"MIL-100(Fe), second reconstruction","x":26.22,"v":124},{"s":"MIL-100(Fe), second reconstruction","x":26.36,"v":122},{"s":"MIL-100(Fe), second reconstruction","x":26.50,"v":124},{"s":"MIL-100(Fe), second reconstruction","x":26.65,"v":123},{"s":"MIL-100(Fe), second reconstruction","x":26.80,"v":122},{"s":"MIL-100(Fe), second reconstruction","x":26.95,"v":124},{"s":"MIL-100(Fe), second reconstruction","x":27.10,"v":123},{"s":"MIL-100(Fe), second reconstruction","x":27.25,"v":125},{"s":"MIL-100(Fe), second reconstruction","x":27.40,"v":123},{"s":"MIL-100(Fe), second reconstruction","x":27.55,"v":126},{"s":"MIL-100(Fe), second reconstruction","x":27.70,"v":124},{"s":"MIL-100(Fe), second reconstruction","x":27.85,"v":126},{"s":"MIL-100(Fe), second reconstruction","x":27.98,"v":127},{"s":"MIL-100(Fe), second reconstruction","x":28.11,"v":131},{"s":"MIL-100(Fe), second reconstruction","x":28.20,"v":127},{"s":"MIL-100(Fe), second reconstruction","x":28.30,"v":125},{"s":"MIL-100(Fe), second reconstruction","x":28.45,"v":126},{"s":"MIL-100(Fe), second reconstruction","x":28.60,"v":124},{"s":"MIL-100(Fe), second reconstruction","x":28.75,"v":125},{"s":"MIL-100(Fe), second reconstruction","x":28.90,"v":123},{"s":"MIL-100(Fe), second reconstruction","x":29.08,"v":125},{"s":"MIL-100(Fe), second reconstruction","x":29.22,"v":123},{"s":"MIL-100(Fe), second reconstruction","x":29.38,"v":124},{"s":"MIL-100(Fe), second reconstruction","x":29.52,"v":122},{"s":"MIL-100(Fe), second reconstruction","x":29.68,"v":124},{"s":"MIL-100(Fe), second reconstruction","x":29.84,"v":122},{"s":"MIL-100(Fe), second reconstruction","x":30.00,"v":123}
]},
"mark": {"type": "line", "strokeWidth": 2.5, "clip": true},
"encoding": {
"x": {"field": "x", "type": "quantitative", "scale": {"domain": [1.8, 30], "nice": false, "zero": false},
  "axis": {"values": [2,3,4,5,6,7,8,9,10,11,12,13,14,15,16,17,18,19,20,21,22,23,24,25,26,27,28,29,30],
    "labelExpr": "datum.value % 5 === 0 ? datum.label : ''",
    "tickSize": {"condition": {"test": "datum.value % 5 === 0", "value": 15}, "value": 7},
    "tickWidth": 1.5, "tickColor": "black", "grid": false, "domain": false,
    "labelFontSize": 24, "labelColor": "black", "labelFont": "DejaVu Sans", "labelPadding": 10, "labelFlush": false, "labelOverlap": false,
    "title": "2θ (degrees)", "titleFontSize": 42.7, "titleFontWeight": "normal", "titleColor": "black", "titleFont": "DejaVu Sans", "titlePadding": 6}},
"y": {"field": "v", "type": "quantitative", "scale": {"domain": [0, 513], "nice": false, "zero": false},
  "axis": {"title": "Intensity (A.U.)", "ticks": false, "labels": false, "grid": false, "domain": false,
    "titleFontSize": 42.7, "titleFontWeight": "normal", "titleColor": "black", "titleFont": "DejaVu Sans", "titlePadding": 18}},
"color": {"field": "s", "type": "nominal",
  "scale": {"domain": ["AS-MIL-100(Fe)", "MIL-100(Fe), first reconstruction", "MIL-100(Fe), second reconstruction"], "range": ["#8B0000", "#B0C4DE", "#4169E1"]},
  "legend": {"orient": "none", "legendX": 1091.5, "legendY": 17, "title": null, "padding": 0, "labelFontSize": 37.3, "labelFont": "DejaVu Sans", "labelColor": "black", "labelLimit": 2000,
    "symbolType": "M-2,0H2", "symbolSize": 756, "symbolStrokeWidth": 2.5, "symbolFillColor": "transparent", "labelAlign": "right", "labelOffset": -55.5, "rowPadding": 3.5}}
}
}
